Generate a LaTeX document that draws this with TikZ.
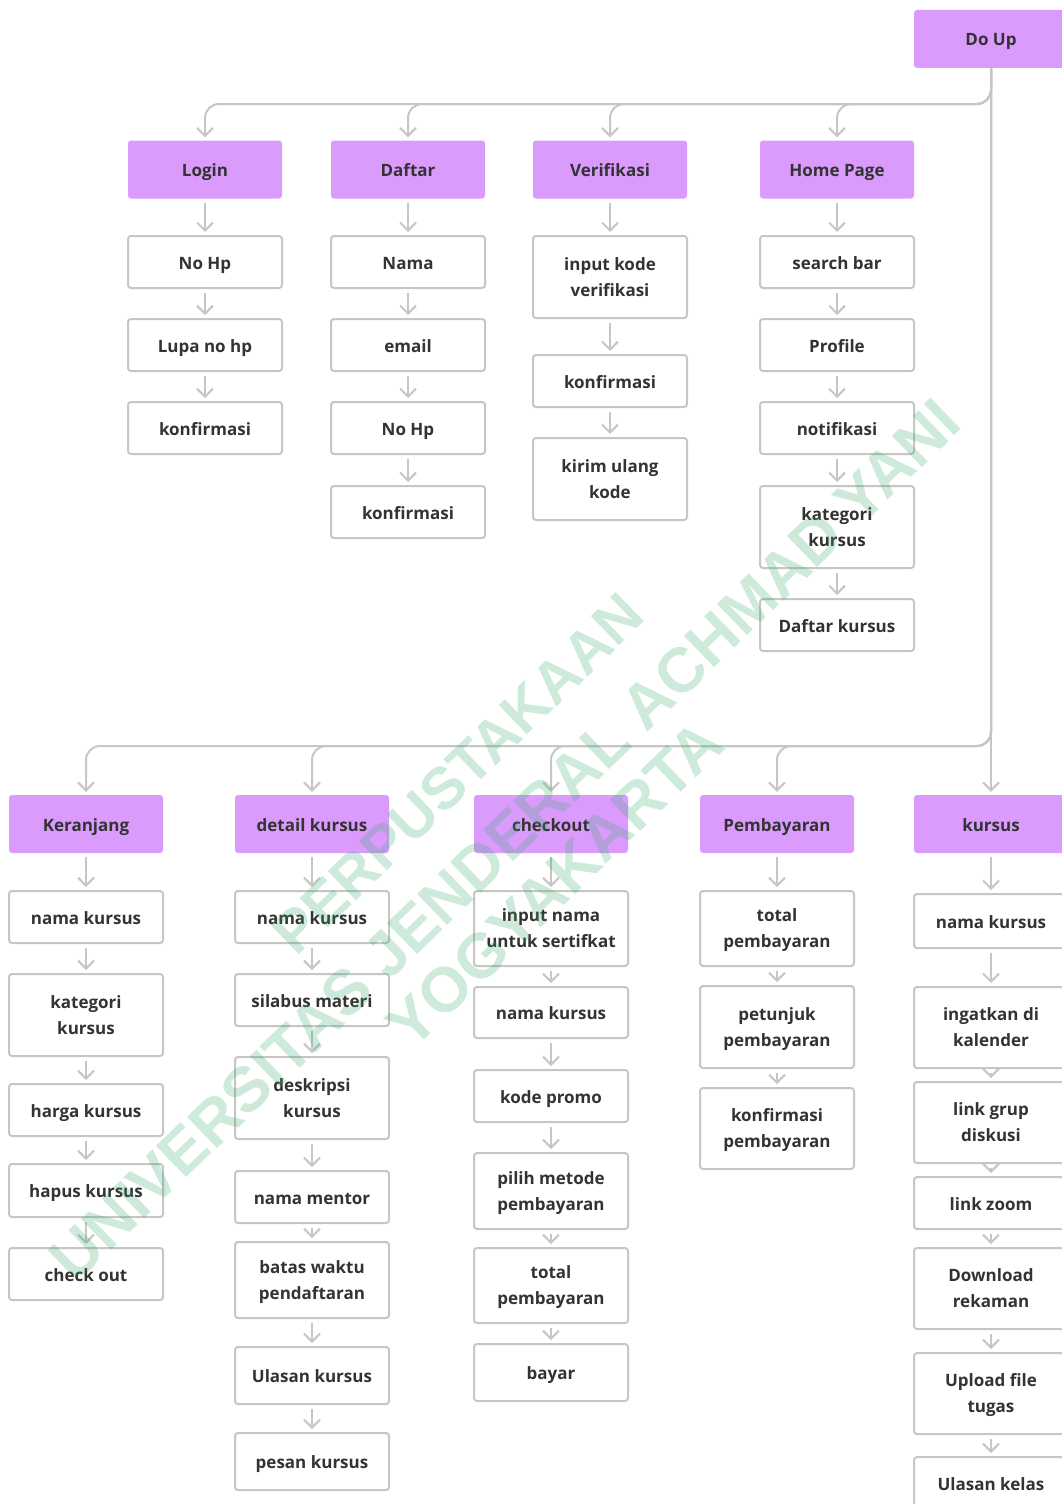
\documentclass[tikz,border=0pt]{standalone}
\usepackage{fontspec}
\setmainfont{Open Sans}
\newfontfamily\wmfont{Liberation Sans}
\usetikzlibrary{arrows.meta}

\definecolor{hdrpurple}{HTML}{DA9BFC}
\definecolor{linegray}{HTML}{C6C6C6}
\definecolor{txtgray}{HTML}{333333}
\definecolor{wmgreen}{HTML}{3DAA6E}

\tikzset{
	hdr/.style={fill=hdrpurple, rounded corners=3, minimum width=154, minimum height=58,
		text=txtgray, font=\fontsize{17}{26}\selectfont\bfseries, align=center,
		text height=17, text depth=3},
	item/.style={draw=linegray, line width=2, fill=white, rounded corners=3, minimum width=154,
		minimum height=52, text=txtgray, font=\fontsize{17}{26}\selectfont\bfseries, align=center,
		text height=17, text depth=3},
	two/.style={text height=38, text depth=0},
	conn/.style={draw=linegray, line width=2, -{Straight Barb[length=8,width=16]}, shorten >=3},
	wm/.style={text=wmgreen, text opacity=0.25, rotate=44, font=\wmfont\fontsize{63}{70}\selectfont\bfseries}
}

\begin{document}
\begin{tikzpicture}[x=1pt, y=-1pt]
		\useasboundingbox (0,0) rectangle (1062,1504);

		% top level
		\node[hdr] (doup) at (991,39) {Do Up};
		\node[hdr] (login) at (205,169.5) {Login};
		\node[hdr] (daftar) at (408,169.5) {Daftar};
		\node[hdr] (verif) at (610,169.5) {Verifikasi};
		\node[hdr] (home) at (837,169.5) {Home Page};

		\node[item] (lg1) at (205,262) {No Hp};
		\node[item] (lg2) at (205,345) {Lupa no hp};
		\node[item] (lg3) at (205,428) {konfirmasi};

		\node[item] (df1) at (408,262) {Nama};
		\node[item] (df2) at (408,345) {email};
		\node[item] (df3) at (408,428) {No Hp};
		\node[item] (df4) at (408,512) {konfirmasi};

		\node[item, two, minimum height=82] (vf1) at (610,277) {input kode\\verifikasi};
		\node[item] (vf2) at (610,381) {konfirmasi};
		\node[item, two, minimum height=82] (vf3) at (610,479) {kirim ulang\\kode};

		\node[item] (hp1) at (837,262) {search bar};
		\node[item] (hp2) at (837,345) {Profile};
		\node[item] (hp3) at (837,428) {notifikasi};
		\node[item, two, minimum height=82] (hp4) at (837,527) {kategori\\kursus};
		\node[item] (hp5) at (837,625) {Daftar kursus};

		% bottom level
		\node[hdr] (krj) at (86,824) {Keranjang};
		\node[hdr] (dtl) at (312,824) {detail kursus};
		\node[hdr] (chk) at (551,824) {checkout};
		\node[hdr] (pby) at (777,824) {Pembayaran};
		\node[hdr] (krs) at (991,824) {kursus};

		\node[item] (kr1) at (86,917) {nama kursus};
		\node[item, two, minimum height=82] (kr2) at (86,1015) {kategori\\kursus};
		\node[item] (kr3) at (86,1110) {harga kursus};
		\node[item, minimum height=53] (kr4) at (86,1190.5) {hapus kursus};
		\node[item] (kr5) at (86,1274) {check out};

		\node[item] (dk1) at (312,917) {nama kursus};
		\node[item] (dk2) at (312,1000) {silabus materi};
		\node[item, two, minimum height=82] (dk3) at (312,1098) {deskripsi\\kursus};
		\node[item] (dk4) at (312,1197) {nama mentor};
		\node[item, two, minimum height=76] (dk5) at (312,1280) {batas waktu\\pendaftaran};
		\node[item, minimum height=57] (dk6) at (312,1375.5) {Ulasan kursus};
		\node[item, minimum height=57] (dk7) at (312,1461.5) {pesan kursus};

		\node[item, two, minimum height=75] (ck1) at (551,928.5) {input nama\\untuk sertifkat};
		\node[item, minimum height=51] (ck2) at (551,1012.5) {nama kursus};
		\node[item] (ck3) at (551,1096) {kode promo};
		\node[item, two, minimum height=76] (ck4) at (551,1191) {pilih metode\\pembayaran};
		\node[item, two, minimum height=75] (ck5) at (551,1285.5) {total\\pembayaran};
		\node[item, minimum height=57] (ck6) at (551,1372.5) {bayar};

		\node[item, two, minimum height=75] (pb1) at (777,928.5) {total\\pembayaran};
		\node[item, two, minimum height=82] (pb2) at (777,1027) {petunjuk\\pembayaran};
		\node[item, two, minimum height=81] (pb3) at (777,1128.5) {konfirmasi\\pembayaran};

		\node[item, minimum height=54] (ks1) at (991,921) {nama kursus};
		\node[item, two, minimum height=81] (ks2) at (991,1027.5) {ingatkan di\\kalender};
		\node[item, two, minimum height=81] (ks3) at (991,1122.5) {link grup\\diskusi};
		\node[item] (ks4) at (991,1203) {link zoom};
		\node[item, two, minimum height=81] (ks5) at (991,1288.5) {Download\\rekaman};
		\node[item, two, minimum height=81] (ks6) at (991,1393.5) {Upload file\\tugas};
		\node[item] (ks7) at (991,1483) {Ulasan kelas};

		% branches from Do Up
		\draw[conn, rounded corners=14] (doup.south) -- (991,104) -- (205,104) -- (login.north);
		\draw[conn, rounded corners=14] (doup.south) -- (991,104) -- (408,104) -- (daftar.north);
		\draw[conn, rounded corners=14] (doup.south) -- (991,104) -- (610,104) -- (verif.north);
		\draw[conn, rounded corners=14] (doup.south) -- (991,104) -- (837,104) -- (home.north);
		\draw[conn, rounded corners=14] (doup.south) -- (991,746) -- (86,746) -- (krj.north);
		\draw[conn, rounded corners=14] (doup.south) -- (991,746) -- (312,746) -- (dtl.north);
		\draw[conn, rounded corners=14] (doup.south) -- (991,746) -- (551,746) -- (chk.north);
		\draw[conn, rounded corners=14] (doup.south) -- (991,746) -- (777,746) -- (pby.north);
		\draw[conn] (doup.south) -- (krs.north);

		% chains
		\draw[conn, shorten <=4] (login) -- (lg1);
		\draw[conn, shorten <=4] (lg1) -- (lg2);
		\draw[conn, shorten <=4] (lg2) -- (lg3);

		\draw[conn, shorten <=4] (daftar) -- (df1);
		\draw[conn, shorten <=4] (df1) -- (df2);
		\draw[conn, shorten <=4] (df2) -- (df3);
		\draw[conn, shorten <=4] (df3) -- (df4);

		\draw[conn, shorten <=4] (verif) -- (vf1);
		\draw[conn, shorten <=4] (vf1) -- (vf2);
		\draw[conn, shorten <=4] (vf2) -- (vf3);

		\draw[conn, shorten <=4] (home) -- (hp1);
		\draw[conn, shorten <=4] (hp1) -- (hp2);
		\draw[conn, shorten <=4] (hp2) -- (hp3);
		\draw[conn, shorten <=4] (hp3) -- (hp4);
		\draw[conn, shorten <=4] (hp4) -- (hp5);

		\draw[conn, shorten <=4] (krj) -- (kr1);
		\draw[conn, shorten <=4] (kr1) -- (kr2);
		\draw[conn, shorten <=4] (kr2) -- (kr3);
		\draw[conn, shorten <=4] (kr3) -- (kr4);
		\draw[conn, shorten <=4] (kr4) -- (kr5);

		\draw[conn, shorten <=4] (dtl) -- (dk1);
		\draw[conn, shorten <=4] (dk1) -- (dk2);
		\draw[conn, shorten <=4] (dk2) -- (dk3);
		\draw[conn, shorten <=4] (dk3) -- (dk4);
		\draw[conn, shorten <=4] (dk4) -- (dk5);
		\draw[conn, shorten <=4] (dk5) -- (dk6);
		\draw[conn, shorten <=4] (dk6) -- (dk7);

		\draw[conn, shorten <=4] (chk) -- (ck1);
		\draw[conn, shorten <=4] (ck1) -- (ck2);
		\draw[conn, shorten <=4] (ck2) -- (ck3);
		\draw[conn, shorten <=4] (ck3) -- (ck4);
		\draw[conn, shorten <=4] (ck4) -- (ck5);
		\draw[conn, shorten <=4] (ck5) -- (ck6);

		\draw[conn, shorten <=4] (pby) -- (pb1);
		\draw[conn, shorten <=4] (pb1) -- (pb2);
		\draw[conn, shorten <=4] (pb2) -- (pb3);

		\draw[conn, shorten <=4] (krs) -- (ks1);
		\draw[conn, shorten <=4] (ks1) -- (ks2);
		\draw[conn, shorten <=4] (ks2) -- (ks3);
		\draw[conn, shorten <=4] (ks3) -- (ks4);
		\draw[conn, shorten <=4] (ks4) -- (ks5);
		\draw[conn, shorten <=4] (ks5) -- (ks6);
		\draw[conn, shorten <=4] (ks6) -- (ks7);

		% watermark
		\node[wm, font=\wmfont\fontsize{59}{70}\selectfont\bfseries] (wm1) at (458,774) {PERPUSTAKAAN};
		\node[wm] (wm2) at (505,840) {UNIVERSITAS JENDERAL ACHMAD YANI};
		\node[wm] (wm3) at (555,884) {YOGYAKARTA};
	\end{tikzpicture}
\end{document}
